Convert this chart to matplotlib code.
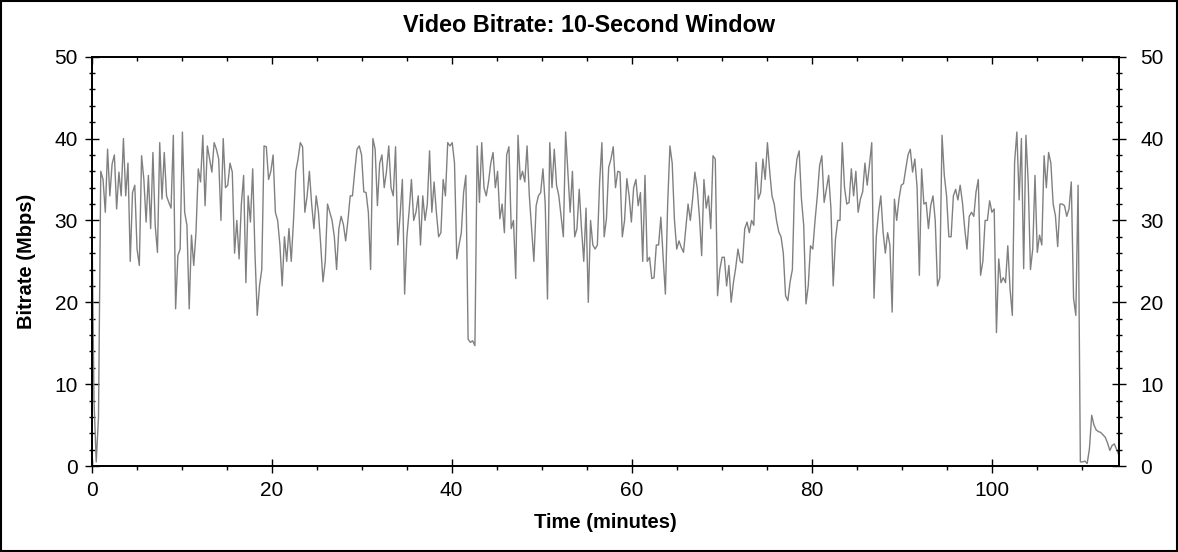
import numpy as np
import matplotlib
matplotlib.use("Agg")
import matplotlib.pyplot as plt
from matplotlib.ticker import MultipleLocator
from matplotlib.patches import Rectangle

# Video bitrate (Mbps), 10-second window
sample_step = 0.252  # minutes between samples

bitrate = [
    # 0 - 14.6 min
    33, 8, 0.5, 6,
    36, 35, 31, 38.7, 33, 36.9, 38, 31.4, 35.9, 33, 40, 33,
    37, 25, 33.4, 34.3, 26.5, 24.5, 37.9, 35, 29.8, 35.5, 29, 38.3,
    29.4, 26.1, 39.5, 32.6, 38.3, 33, 32.2, 31.5, 40.4, 19.2, 25.7, 26.5,
    40.8, 31, 29.4, 19.2, 28.2, 24.5, 28.6, 36.3, 34.7, 40.4, 31.8, 39.1,
    37.5, 35.9, 39.5, 38.7, 37.5, 30, 40,
    # 14.9 - 29.2 min
    34, 34.3, 37, 35.9, 26, 30, 25.3, 32, 35.5, 22.4, 33, 29.8,
    36.3, 26, 18.4, 22, 24, 39.1, 39, 35, 36, 38, 31, 30,
    27, 22, 28, 25, 29, 25, 30, 36, 37.5, 39.5, 39, 31,
    33, 36, 32, 29, 33, 31, 27, 22.5, 25, 32, 31, 30,
    28, 24, 29, 30.5, 29.5, 27.5, 30, 33, 33, 36,
    # 29.5 - 43.8 min
    38.7, 39.1, 38, 33.5, 33.4, 31, 24, 40, 38.7, 31.8, 37, 38,
    34, 36, 39.1, 34, 33, 39, 27, 30.6, 35, 21, 28, 31.2,
    35, 30, 31, 33, 27, 33, 30, 32, 38.5, 31, 34.7, 31,
    28, 28.5, 35, 33, 39.5, 39.1, 39.5, 37, 25.3, 27, 28.5, 33.4,
    35.5, 15.5, 15.1, 15.3, 14.7, 39.1, 32.2, 39.5, 34, 33,
    # 44.1 - 58.4 min
    34.7, 37, 38.3, 34, 36, 30.2, 32, 28.5, 38, 39, 29, 30,
    22.9, 40.4, 35, 36, 34.7, 39.1, 33, 29, 25, 31.8, 33, 33.4,
    36.3, 32, 20.4, 39.5, 34, 38.7, 34.3, 33, 30.5, 28, 40.8, 36,
    31, 36, 28, 29, 33.8, 29, 25, 31.5, 20, 30, 27, 26.5,
    27, 34.7, 39.5, 28, 30.2, 36.5, 37.5, 39, 34, 36,
    # 58.7 - 73.1 min
    35.9, 28, 30, 35.1, 33, 29.8, 34, 35, 31.8, 33.4, 25, 35.5,
    25, 25.5, 22.9, 23, 27, 27, 30.4, 25.5, 21, 32, 39.1, 37,
    30, 26.5, 27.5, 26.7, 26.1, 29, 32, 30, 32.6, 35.9, 34, 30.5,
    25.7, 35, 31.5, 33, 29, 37.9, 37.5, 20.8, 24, 25.5, 25.5, 22,
    24.5, 20, 22.4, 24.2, 26.5, 25, 24.8, 29, 29.8, 28.5,
    # 73.3 - 87.9 min
    30, 29.4, 37.1, 32.6, 33.4, 37.5, 35, 39.5, 36, 33, 32, 30,
    28.6, 28, 26, 20.8, 20.2, 22.5, 24, 34.7, 37.5, 38.5, 32.6, 29.4,
    19.8, 22, 26.9, 26.5, 30, 33, 36.7, 37.9, 32.2, 33.8, 35.5, 31.5,
    22, 27.7, 30, 30, 39.5, 34, 32, 32.2, 36.3, 33, 36, 31,
    32.6, 33.5, 37, 34.3, 36.8, 39.5, 20.5, 28, 31, 33, 28.6,
    # 88.2 - 102.5 min
    26, 28.5, 27, 18.8, 32.6, 30, 32.6, 34.3, 34.5, 36.3, 38, 38.7,
    35.9, 37.5, 34, 23.3, 36.3, 32, 32.2, 29, 31.8, 33, 30, 22,
    23, 40.4, 35.5, 33, 28, 28, 33, 33.8, 32.5, 34.3, 32.2, 29,
    26.5, 30.5, 31, 30.5, 33.5, 35, 23.3, 25, 30, 30, 32.4, 31,
    31.4, 16.3, 25.3, 22.4, 23, 22.4, 26.9, 21.6, 18.4, 37.1,
    # 102.8 - 114.2 min
    40.8, 32.5, 40, 24.1, 40.4, 34.7, 24, 26.5, 35.5, 26.1, 28.2, 27,
    37.9, 34, 38.3, 37, 32, 30.6, 26.8, 32, 32, 31.8, 30.5, 31.4,
    34.7, 20.5, 18.4, 34.3, 0.5, 0.5, 0.6, 0.3, 2.1, 6.2, 5, 4.4,
    4.2, 4.1, 3.8, 3.5, 2.8, 1.9, 2.5, 2.7, 2, 1.3,
]
minutes = np.arange(len(bitrate)) * sample_step

x_max = 114.2
y_max = 50
W, H = 1178, 552
plt.rcParams["font.family"] = ["Liberation Sans", "DejaVu Sans"]

fig = plt.figure(figsize=(W / 100, H / 100), dpi=100)
ax = fig.add_axes([91.7 / W, 1 - 466 / H, (1119.3 - 91.7) / W, (466 - 56.7) / H])

ax.plot(minutes, bitrate, color="#808080", lw=1.0)

ax.set_xlim(0, x_max)
ax.set_ylim(0, y_max)

tick_w = 1.0
ax.xaxis.set_major_locator(MultipleLocator(20))
ax.xaxis.set_minor_locator(MultipleLocator(5))
ax.yaxis.set_major_locator(MultipleLocator(10))
ax.yaxis.set_minor_locator(MultipleLocator(2))

ax.tick_params(axis="x", which="major", direction="inout", length=10, width=tick_w,
               labelsize=15, pad=6, top=False)
ax.tick_params(axis="x", which="minor", direction="out", length=2.6, width=tick_w, top=False)
ax.tick_params(axis="y", which="major", direction="inout", length=10, width=tick_w,
               labelsize=15, pad=5, right=False)
ax.tick_params(axis="y", which="minor", direction="inout", length=4.8, width=tick_w, right=False)

# top edge: inward ticks, no labels
ax_top = ax.twiny()
ax_top.set_xlim(0, x_max)
ax_top.xaxis.set_major_locator(MultipleLocator(20))
ax_top.xaxis.set_minor_locator(MultipleLocator(5))
ax_top.tick_params(axis="x", which="major", direction="in", length=5, width=tick_w,
                   labeltop=False, bottom=False)
ax_top.tick_params(axis="x", which="minor", direction="in", length=2.9, width=tick_w,
                   bottom=False)

# right edge mirrors the left one, with labels
ax_right = ax.twinx()
ax_right.set_ylim(0, y_max)
ax_right.yaxis.set_major_locator(MultipleLocator(10))
ax_right.yaxis.set_minor_locator(MultipleLocator(2))
ax_right.tick_params(axis="y", which="major", direction="inout", length=10, width=tick_w,
                     labelsize=15, pad=10, left=False)
ax_right.tick_params(axis="y", which="minor", direction="inout", length=4.8, width=tick_w,
                     left=False)

for a in (ax, ax_top, ax_right):
    for s in a.spines.values():
        s.set_linewidth(1.1)

fig.text(605.5 / W, 1 - 523 / H, "Time (minutes)", ha="center", va="center",
         fontsize=14.5, fontweight="bold")
fig.text(27 / W, 1 - 261 / H, "Bitrate (Mbps)", ha="center", va="center",
         rotation=90, fontsize=14.5, fontweight="bold")
fig.text(0.5, 1 - 26 / H, "Video Bitrate: 10-Second Window", ha="center", va="center",
         fontsize=16.8, fontweight="bold")

# thin frame around the whole picture
fig.patches.append(Rectangle((0.0005, 0.001), 0.999, 0.998, transform=fig.transFigure,
                             fill=False, edgecolor="black", lw=1.5))

fig.savefig("out.png", dpi=100)
